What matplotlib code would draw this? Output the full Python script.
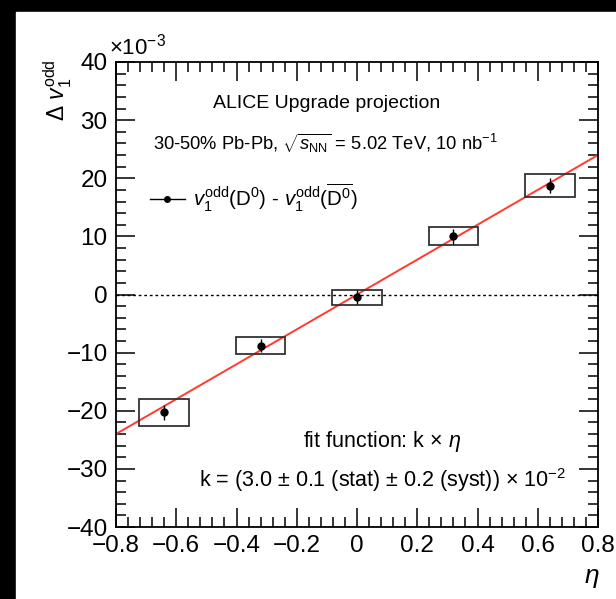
import numpy as np
import matplotlib
matplotlib.use("Agg")
import matplotlib.pyplot as plt
from matplotlib.patches import Rectangle
from matplotlib.lines import Line2D
from matplotlib.ticker import MultipleLocator, FuncFormatter

plt.rcParams['font.family'] = ['Liberation Sans', 'DejaVu Sans']
plt.rcParams['mathtext.fontset'] = 'custom'
plt.rcParams['mathtext.rm'] = 'Liberation Sans'
plt.rcParams['mathtext.it'] = 'Liberation Sans:italic'
plt.rcParams['mathtext.bf'] = 'Liberation Sans:bold'

# data, delta v1 in units of 1e-3
eta = [-0.64, -0.32, 0.0, 0.32, 0.64]
dv1 = [-20.3, -8.8, -0.5, 10.0, 18.7]
stat_err = [1.3, 1.1, 1.2, 1.3, 1.3]
syst_err = [2.25, 1.5, 1.3, 1.55, 1.95]
fit_k = 30.0  # k = 3.0e-2 -> 30 in 1e-3 units
eta_range = [-0.8, 0.8]

box_hw = 0.082

fig = plt.figure(figsize=(6.16, 5.99), dpi=100, facecolor='black')
fig.patches.append(Rectangle((16 / 616, 0), 1 - 16 / 616, 1 - 12 / 599,
                             transform=fig.transFigure, color='white', zorder=-10))
ax = fig.add_axes([116 / 616, 1 - 527 / 599, 482 / 616, 465 / 599])
ax.set_zorder(1)
ax.set_facecolor('white')

ax.axhline(0, color='black', lw=1.0, ls=(0, (2, 2)), zorder=1)

fit_x = np.array(eta_range)
ax.plot(fit_x, fit_k * fit_x, color='#ff3b30', lw=1.4, zorder=2)

for x, y, s in zip(eta, dv1, syst_err):
    ax.add_patch(Rectangle((x - box_hw, y - s), 2 * box_hw, 2 * s,
                           fill=False, edgecolor='#333333', lw=1.3, zorder=3))

ax.errorbar(eta, dv1, yerr=stat_err, fmt='o', color='black', ms=5,
            elinewidth=1.0, capsize=0, zorder=4)

ax.set_xlim(-0.8, 0.8)
ax.set_ylim(-40, 40)
ax.xaxis.set_major_locator(MultipleLocator(0.2))
ax.xaxis.set_minor_locator(MultipleLocator(0.04))
ax.yaxis.set_major_locator(MultipleLocator(10))
ax.yaxis.set_minor_locator(MultipleLocator(2))
ax.tick_params(which='both', direction='in', top=True, right=True,
               labelsize=17.5, width=1.1)
ax.tick_params(axis='y', which='major', length=14, pad=6)
ax.tick_params(axis='y', which='minor', length=7)
ax.tick_params(axis='x', which='major', length=14, pad=6)
ax.tick_params(axis='x', which='minor', length=7)
ax.xaxis.set_major_formatter(FuncFormatter(
    lambda v, p: '0' if abs(v) < 1e-9 else ('%.1f' % v).replace('-', '\u2212')))
for sp in ax.spines.values():
    sp.set_linewidth(1.3)

fig.text(58 / 616, 1 - 59 / 599, r'$\Delta$ $v_{1}^{\rm odd}$', rotation=90,
         ha='center', va='top', fontsize=16.5)
fig.text(109 / 616, 1 - 60 / 599, r'$\times10^{-3}$', ha='left', va='bottom',
         fontsize=16)
fig.text(592 / 616, 1 - 579 / 599, r'$\eta$', ha='center', va='center',
         fontsize=19, family='Liberation Serif', style='italic')

ax.text(0.438, 0.910, 'ALICE Upgrade projection', transform=ax.transAxes,
        ha='center', va='center', fontsize=14)
ax.text(0.434, 0.826, r'30-50% Pb-Pb, $\sqrt{s_{\rm NN}}$ = 5.02 TeV, 10 nb$^{-1}$',
        transform=ax.transAxes, ha='center', va='center', fontsize=13.2)
ax.text(0.553, 0.183, r'fit function: k $\times$ $\eta$', transform=ax.transAxes,
        ha='center', va='center', fontsize=15.5)
ax.text(0.554, 0.101, r'k = (3.0 $\pm$ 0.1 (stat) $\pm$ 0.2 (syst)) $\times$ 10$^{-2}$',
        transform=ax.transAxes, ha='center', va='center', fontsize=15.5)

handle = Line2D([], [], color='black', marker='o', ms=4, lw=1.0)
ax.legend([handle], [r'$v_{1}^{\rm odd}$(D$^{0}$) - $v_{1}^{\rm odd}$($\overline{\mathrm{D}^{0}}$)'],
          loc='center left', bbox_to_anchor=(0.07, 0.7075), frameon=False,
          fontsize=14.8, borderpad=0, borderaxespad=0, handlelength=1.7,
          handletextpad=0.4)

fig.savefig('out.png', dpi=100, facecolor=fig.get_facecolor())
